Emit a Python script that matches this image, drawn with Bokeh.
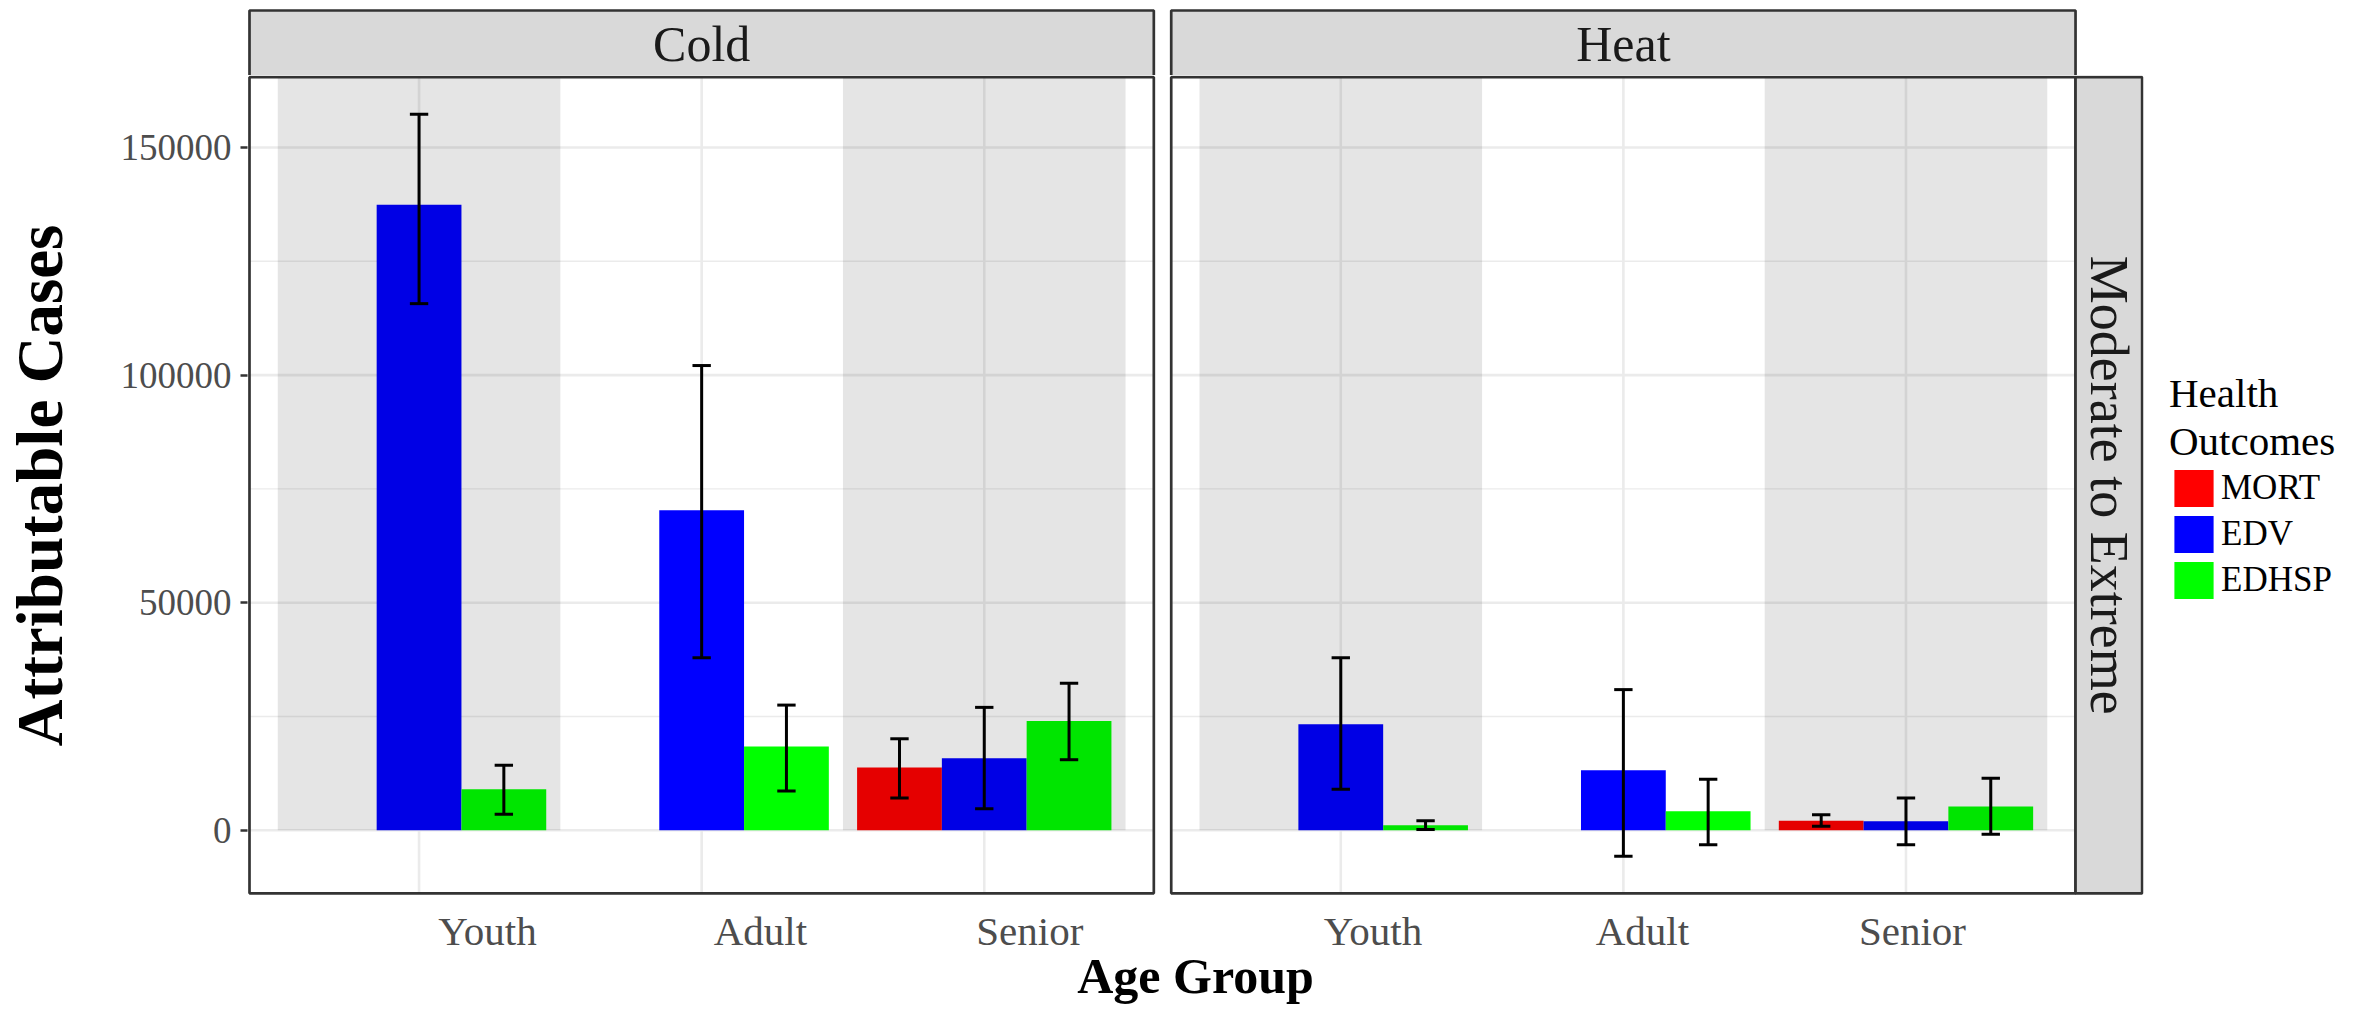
import math
import numpy as np
from bokeh.plotting import figure
from bokeh.layouts import column, row
from bokeh.models import ColumnDataSource, Range1d, FixedTicker, Legend, LegendItem
from bokeh.core.properties import value
from bokeh.embed import file_html
from bokeh.resources import INLINE

nan = float("nan")

# ---------------- data ----------------
PANELS = ["Cold", "Heat"]
ROW_STRIP = "Moderate to Extreme"
GROUPS = ["Youth", "Adult", "Senior"]
OUTCOMES = ["MORT", "EDV", "EDHSP"]
COLORS = ["#FF0000", "#0000FF", "#00FF00"]
LEGEND_TITLE = "Health\nOutcomes"

# rows: MORT, EDV, EDHSP ; columns: Youth, Adult, Senior
COLD_EST = [[nan, nan, 13800], [137400, 70300, 15800], [9000, 18400, 24000]]
COLD_LO = [[nan, nan, 7100], [115700, 37900, 4700], [3500, 8600, 15500]]
COLD_HI = [[nan, nan, 20100], [157300, 102100, 27000], [14300, 27500, 32300]]

HEAT_EST = [[nan, nan, 2100], [23300, 13200, 2000], [1100, 4200, 5200]]
HEAT_LO = [[nan, nan, 900], [9000, -5700, -3200], [150, -3200, -900]]
HEAT_HI = [[nan, nan, 3400], [37900, 30900, 7100], [2100, 11200, 11400]]

Y_TICKS = [0, 50000, 100000, 150000]
Y_MINOR = [25000, 75000, 125000]

# ---------------- layout / style ----------------
FONT = "Liberation Serif"
ML, FW, MR = 247, 1896, 2            # main: left border, frame width, right border
FH, MB = 820, 113                    # main frame height, bottom border
SH = 75                              # strip figure height
LW = 2369 - (ML + FW + MR) - 1       # legend figure width
UNIT = 282.6                         # px per x unit
GAP_UNITS = 17.4 / UNIT              # gap between panels
STRIP_UNITS = 66.6 / UNIT            # width of right strip
BAR_W = 0.3
DODGE = [-0.3, 0.0, 0.3]
CAP_W = 0.065
# shift of the printed group labels relative to the category centre, per panel
LABEL_SHIFT = [[0.242, 0.208, 0.161], [0.114, 0.067, 0.023]]
BORDER = "#333333"
STRIP_FILL = "#D9D9D9"
BW = 2.7

panel_off = [i * (3.2 + GAP_UNITS) for i in range(len(PANELS))]
ests = [COLD_EST, HEAT_EST]
los = [COLD_LO, HEAT_LO]
his = [COLD_HI, HEAT_HI]

all_lo = np.nanmin(np.array(los, dtype=float))
all_hi = np.nanmax(np.array(his, dtype=float))
pad = 0.05 * (all_hi - all_lo)
y_lo, y_hi = all_lo - pad, all_hi + pad
PPU_Y = 816.1 / (y_hi - y_lo)

x_start = 0.4 - 2.0 / UNIT
x_end = x_start + FW / UNIT
x_range = Range1d(x_start, x_end)
y_range = Range1d(y_lo - 2.2 / PPU_Y, y_hi + 1.7 / PPU_Y)

p = figure(width=ML + FW + MR, height=FH + MB, frame_width=FW, frame_height=FH,
           x_range=x_range, y_range=y_range, output_backend="svg",
           toolbar_location=None, min_border_left=ML, min_border_right=MR,
           min_border_top=0, min_border_bottom=MB)
p.outline_line_color = None
p.xgrid.visible = False
p.ygrid.visible = False
p.background_fill_color = "white"

# gridlines (per panel)
gx0, gy0, gx1, gy1, gw = [], [], [], [], []
for off in panel_off:
    for t in Y_MINOR:
        gx0.append(0.4 + off); gx1.append(3.6 + off); gy0.append(t); gy1.append(t)
        gw.append(1.4)
    for t in Y_TICKS:
        gx0.append(0.4 + off); gx1.append(3.6 + off); gy0.append(t); gy1.append(t)
        gw.append(2.6)
    for gi in range(len(GROUPS)):
        gx0.append(gi + 1 + off); gx1.append(gi + 1 + off); gy0.append(y_lo); gy1.append(y_hi)
        gw.append(2.6)
p.segment(x0=gx0, y0=gy0, x1=gx1, y1=gy1, line_color="#EBEBEB", line_width=gw)

# bars
err = dict(x=[], lo=[], hi=[])
for oi, outcome in enumerate(OUTCOMES):
    d = dict(x=[], top=[])
    for pi, off in enumerate(panel_off):
        for gi in range(len(GROUPS)):
            v = ests[pi][oi][gi]
            if isinstance(v, float) and math.isnan(v):
                continue
            xx = gi + 1 + DODGE[oi] + off
            d["x"].append(xx); d["top"].append(v)
            err["x"].append(xx); err["lo"].append(los[pi][oi][gi]); err["hi"].append(his[pi][oi][gi])
    p.vbar(x="x", top="top", bottom=0, width=BAR_W, source=ColumnDataSource(d),
           fill_color=COLORS[oi], line_color=None)

# alternating shaded bands (drawn over the bars, semi-transparent)
bl, br = [], []
for off in panel_off:
    for gi in range(0, len(GROUPS), 2):
        bl.append(gi + 0.5 + off); br.append(gi + 1.5 + off)
p.quad(left=bl, right=br, bottom=0, top=y_hi, fill_color="black", fill_alpha=0.102,
       line_color=None)

# error bars
es = ColumnDataSource(dict(x=err["x"], lo=err["lo"], hi=err["hi"],
                           xl=[v - CAP_W / 2 for v in err["x"]],
                           xr=[v + CAP_W / 2 for v in err["x"]]))
p.segment(x0="x", y0="lo", x1="x", y1="hi", source=es, line_color="black", line_width=3)
p.segment(x0="xl", y0="hi", x1="xr", y1="hi", source=es, line_color="black", line_width=3)
p.segment(x0="xl", y0="lo", x1="xr", y1="lo", source=es, line_color="black", line_width=3)

# panel borders
p.quad(left=[0.4 + o for o in panel_off], right=[3.6 + o for o in panel_off],
       bottom=y_lo, top=y_hi, fill_color=None, line_color=BORDER, line_width=BW)

# right strip
rs_l = 3.6 + panel_off[-1]
rs_r = rs_l + STRIP_UNITS
p.quad(left=[rs_l], right=[rs_r], bottom=y_lo, top=y_hi, fill_color=STRIP_FILL,
       line_color=BORDER, line_width=BW)
p.text(x=[(rs_l + rs_r) / 2], y=[(y_lo + y_hi) / 2], text=[ROW_STRIP], angle=-math.pi / 2,
       text_align="center", text_baseline="middle", text_font=value(FONT),
       text_font_size="54px", text_color="#1A1A1A")

# axes
tick_pos, tick_lab = [], {}
for pi, off in enumerate(panel_off):
    for gi, g in enumerate(GROUPS):
        t = round(gi + 1 + LABEL_SHIFT[pi][gi] + off, 4)
        tick_pos.append(t)
        tick_lab[t] = g
xa = p.xaxis[0]
xa.ticker = FixedTicker(ticks=tick_pos)
xa.major_label_overrides = tick_lab
xa.axis_line_color = None
xa.major_tick_line_color = None
xa.minor_tick_line_color = None
xa.major_tick_out = 0
xa.major_tick_in = 0
xa.major_label_text_font = FONT
xa.major_label_text_font_size = "41px"
xa.major_label_text_color = "#4D4D4D"
xa.major_label_standoff = 12
xa.axis_label = "Age Group"
xa.axis_label_text_font = FONT
xa.axis_label_text_font_size = "50px"
xa.axis_label_text_font_style = "bold"
xa.axis_label_text_color = "black"
xa.axis_label_standoff = -9

ya = p.yaxis[0]
ya.ticker = FixedTicker(ticks=Y_TICKS)
ya.major_label_overrides = {t: str(t) for t in Y_TICKS}
ya.axis_line_color = None
ya.major_tick_out = 7
ya.major_tick_in = 0
ya.major_tick_line_color = BORDER
ya.major_tick_line_width = 2.5
ya.minor_tick_line_color = None
ya.major_label_text_font = FONT
ya.major_label_text_font_size = "37px"
ya.major_label_text_color = "#4D4D4D"
ya.major_label_standoff = 9
ya.axis_label = "Attributable Cases"
ya.axis_label_text_font = FONT
ya.axis_label_text_font_size = "65px"
ya.axis_label_text_font_style = "bold"
ya.axis_label_text_color = "black"
ya.axis_label_standoff = 42

# top strip figure
s = figure(width=ML + FW + MR, height=SH, frame_width=FW, frame_height=SH,
           x_range=x_range, y_range=Range1d(0, SH), output_backend="svg",
           toolbar_location=None, min_border_left=ML, min_border_right=MR,
           min_border_top=0, min_border_bottom=0, x_axis_type=None, y_axis_type=None)
s.outline_line_color = None
s.xgrid.visible = False
s.ygrid.visible = False
s.quad(left=[0.4 + o for o in panel_off], right=[3.6 + o for o in panel_off],
       bottom=-1.7, top=SH - 10, fill_color=STRIP_FILL, line_color=BORDER, line_width=BW)
s.text(x=[2 + o for o in panel_off], y=(SH - 10 - 1.7) / 2, text=PANELS,
       text_align="center", text_baseline="middle", text_font=value(FONT),
       text_font_size="50px", text_color="#1A1A1A")

# legend figure (keys use the same fills as the bars; their one point lies off-view)
LT = 369
lf = figure(width=LW, height=SH + FH + MB, frame_width=LW - 24, frame_height=SH + FH + MB - LT,
            x_range=Range1d(0, 1), y_range=Range1d(0, 1), output_backend="svg",
            toolbar_location=None, min_border_left=24, min_border_right=0,
            min_border_top=LT, min_border_bottom=0, x_axis_type=None, y_axis_type=None)
lf.outline_line_color = None
lf.xgrid.visible = False
lf.ygrid.visible = False
key_renderers = [lf.vbar(x=[10], top=[10], bottom=[9], width=1, fill_color=c, line_color=None)
                 for c in COLORS]
legend = Legend(items=[LegendItem(label=o, renderers=[r]) for o, r in zip(OUTCOMES, key_renderers)],
                title=LEGEND_TITLE, location="top_left", orientation="vertical")
legend.title_text_font = FONT
legend.title_text_font_size = "41px"
legend.title_text_font_style = "normal"
legend.title_text_color = "black"
legend.title_standoff = 0
legend.label_text_font = FONT
legend.label_text_font_size = "35px"
legend.label_text_color = "black"
legend.glyph_width = 49
legend.glyph_height = 46
legend.spacing = 0
legend.label_standoff = 3
legend.padding = 0
legend.margin = 0
legend.border_line_color = None
legend.background_fill_alpha = 0
lf.add_layout(legend)

layout = row(column(s, p, spacing=0), lf, spacing=0)
open("out.html", "w").write(file_html(layout, INLINE))
